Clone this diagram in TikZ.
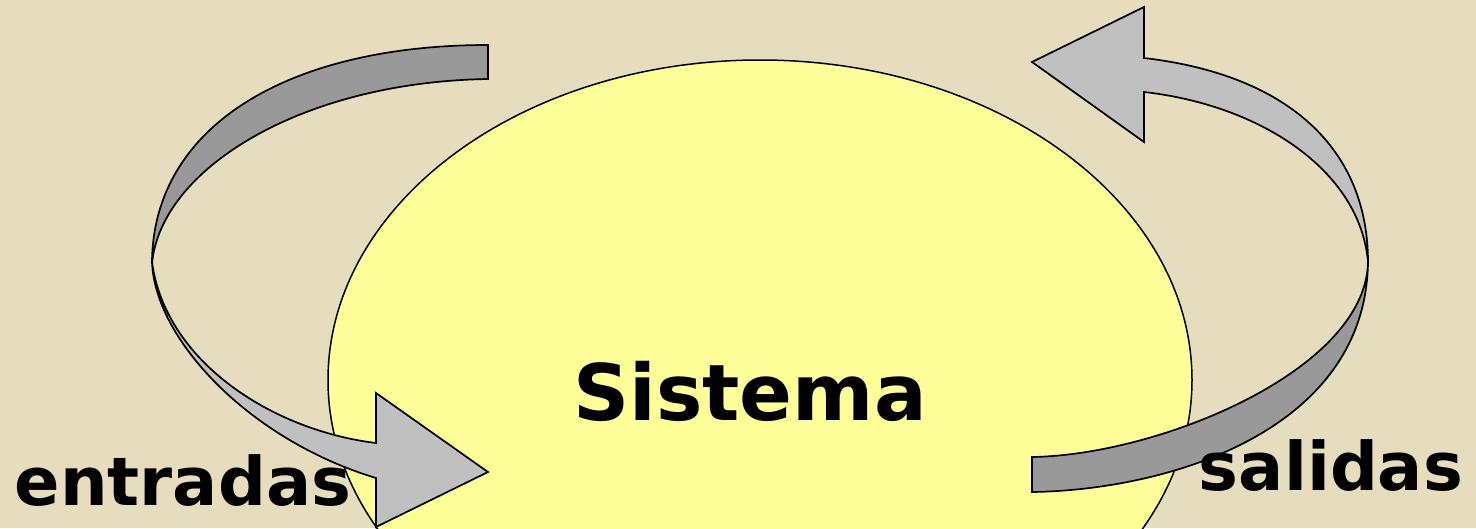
\documentclass[tikz,border=0pt]{standalone}
\usepackage{fontspec}
\setmainfont{DejaVu Sans}
\usetikzlibrary{shapes.geometric}
\definecolor{bg}{HTML}{E6DDBF}
\definecolor{sysfill}{HTML}{FFFF99}
\definecolor{ribdark}{HTML}{999999}
\definecolor{riblight}{HTML}{C0C0C0}
\tikzset{
  sysbox/.style={ellipse, draw=black, line width=1.5pt, fill=sysfill, minimum width=864pt, minimum height=640pt, inner sep=0pt},
  backside/.style={draw=black, line width=1.7pt, fill=ribdark, line join=miter},
  frontside/.style={draw=black, line width=1.7pt, fill=riblight, line join=miter},
  bigtext/.style={font=\bfseries\fontsize{78}{80}\selectfont, anchor=base, inner sep=0pt},
  labeltext/.style={font=\bfseries\fontsize{67}{70}\selectfont, anchor=base, inner sep=0pt}
}
\begin{document}
\begin{tikzpicture}[x=1pt,y=-1pt]
\useasboundingbox (0,0) rectangle (1476,528);
\clip (0,0) rectangle (1476,528);
\fill[bg] (0,0) rectangle (1476,528);
% system ellipse
\node[sysbox] (sys) at (760,380) {};
% left arrow (entradas): back side (top)
\draw[backside] (488,45) -- (488,79)
  .. controls (300,82) and (160,170) .. (152,264)
  .. controls (152,125) and (290,45) .. (488,45) -- cycle;
% left arrow: front side (bottom) with head
\draw[frontside] (152,262)
  .. controls (165,360) and (270,430) .. (376,443)
  -- (376,393) -- (488,472) -- (376,527) -- (376,478)
  .. controls (250,440) and (155,340) .. (152,262) -- cycle;
% right arrow (salidas): back side (bottom)
\draw[backside] (1032,492) -- (1032,457)
  .. controls (1160,455) and (1366,370) .. (1368,262)
  .. controls (1366,430) and (1170,490) .. (1032,492) -- cycle;
% right arrow: front side (top) with head
\draw[frontside] (1368,262)
  .. controls (1368,150) and (1290,75) .. (1144,58)
  -- (1144,7) -- (1032,62) -- (1144,142) -- (1144,92)
  .. controls (1260,105) and (1360,170) .. (1368,262) -- cycle;
% texts
\node[bigtext] (systxt) at (750,420) {Sistema};
\node[labeltext] (inlbl) at (183,505) {entradas};
\node[labeltext] (outlbl) at (1331,490) {salidas};
\end{tikzpicture}
\end{document}
